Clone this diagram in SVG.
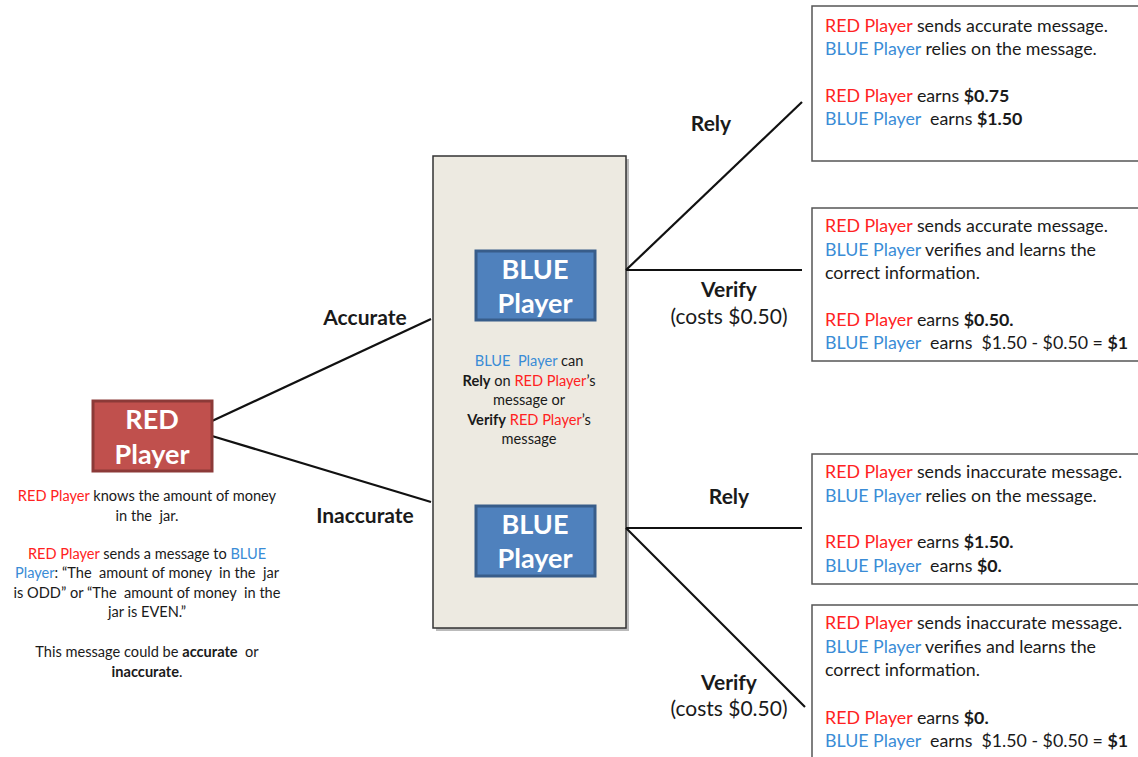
<svg xmlns="http://www.w3.org/2000/svg" width="1138" height="757" viewBox="0 0 1138 757" xml:space="preserve">
<style>
text{font-family:Lato,"Liberation Sans",sans-serif;fill:#1a1a1a;white-space:pre}
.r{fill:#FF2222}
.b{fill:#3A8CD6}
.bd{font-weight:bold}
.lbl{font-size:21px;font-weight:bold;text-anchor:middle}
.cost{font-size:21px;text-anchor:middle}
.box{fill:#fff;stroke:#555;stroke-width:1.5}
.ttl{font-size:27px;font-weight:bold;fill:#fff;text-anchor:middle}
.rt{font-size:17.8px}
.sm{font-size:14.6px;text-anchor:middle}
.ln{stroke:#111;stroke-width:2.2;fill:none}
</style>
<rect width="1138" height="757" fill="#fff"/>
<g id="container">
<rect x="436" y="159" width="193" height="472" fill="#bbb"/>
<rect x="433" y="156" width="193" height="472" fill="#EDEAE1" stroke="#333" stroke-width="1.5"/>
</g>
<g id="connectors">
<line class="ln" x1="212" y1="421" x2="431" y2="319"/>
<line class="ln" x1="212" y1="436" x2="431" y2="502"/>
<line class="ln" x1="626" y1="270" x2="802" y2="102"/>
<line class="ln" x1="626" y1="270" x2="802" y2="270"/>
<line class="ln" x1="626" y1="528" x2="802" y2="528"/>
<line class="ln" x1="626" y1="528" x2="805" y2="707"/>
<text class="lbl" x="365" y="325">Accurate</text>
<text class="lbl" x="365" y="523">Inaccurate</text>
<text class="lbl" x="711" y="131">Rely</text>
<text class="lbl" x="729" y="297">Verify</text>
<text class="cost" x="729" y="324">(costs $0.50)</text>
<text class="lbl" x="729" y="504">Rely</text>
<text class="lbl" x="729" y="690">Verify</text>
<text class="cost" x="729" y="716">(costs $0.50)</text>
</g>
<g id="red-player">
<rect x="93" y="401" width="119" height="70" fill="#C0504D" stroke="#8C3A38" stroke-width="3"/>
<text class="ttl" x="152" y="429">RED</text>
<text class="ttl" x="152" y="464">Player</text>
</g>
<g id="red-desc">
<text class="sm" x="147" y="501"><tspan class="r">RED Player</tspan> knows the amount of money</text>
<text class="sm" x="147" y="521">in the  jar.</text>
<text class="sm" x="147" y="559"><tspan class="r">RED Player</tspan> sends a message to <tspan class="b">BLUE</tspan></text>
<text class="sm" x="147" y="578"><tspan class="b">Player</tspan>: “The  amount of money  in the  jar</text>
<text class="sm" x="147" y="598">is ODD” or “The  amount of money  in the</text>
<text class="sm" x="147" y="617">jar is EVEN.”</text>
<text class="sm" x="147" y="657">This message could be <tspan class="bd">accurate</tspan>  or</text>
<text class="sm" x="147" y="677"><tspan class="bd">inaccurate</tspan>.</text>
</g>
<g id="blue-player-top">
<rect x="476" y="251" width="119" height="69" fill="#4F81BD" stroke="#385D8A" stroke-width="3"/>
<text class="ttl" x="535" y="279">BLUE</text>
<text class="ttl" x="535" y="313">Player</text>
</g>
<g id="blue-desc">
<text class="sm" x="529" y="366"><tspan class="b">BLUE  Player</tspan> can</text>
<text class="sm" x="529" y="386"><tspan class="bd">Rely</tspan> on <tspan class="r">RED Player</tspan>’s</text>
<text class="sm" x="529" y="405">message or</text>
<text class="sm" x="529" y="425"><tspan class="bd">Verify</tspan> <tspan class="r">RED Player</tspan>’s</text>
<text class="sm" x="529" y="444">message</text>
</g>
<g id="blue-player-bottom">
<rect x="476" y="506" width="119" height="70" fill="#4F81BD" stroke="#385D8A" stroke-width="3"/>
<text class="ttl" x="535" y="534">BLUE</text>
<text class="ttl" x="535" y="568">Player</text>
</g>
<g id="outcome-1">
<rect class="box" x="812" y="6" width="330" height="155"/>
<text class="rt" x="825" y="32"><tspan class="r">RED Player</tspan> sends accurate message.</text>
<text class="rt" x="825" y="55"><tspan class="b">BLUE Player</tspan> relies on the message.</text>
<text class="rt" x="825" y="102"><tspan class="r">RED Player</tspan> earns <tspan class="bd">$0.75</tspan></text>
<text class="rt" x="825" y="125"><tspan class="b">BLUE Player</tspan>  earns <tspan class="bd">$1.50</tspan></text>
</g>
<g id="outcome-2">
<rect class="box" x="812" y="208" width="330" height="153"/>
<text class="rt" x="825" y="232"><tspan class="r">RED Player</tspan> sends accurate message.</text>
<text class="rt" x="825" y="256"><tspan class="b">BLUE Player</tspan> verifies and learns the</text>
<text class="rt" x="825" y="279">correct information.</text>
<text class="rt" x="825" y="326"><tspan class="r">RED Player</tspan> earns <tspan class="bd">$0.50.</tspan></text>
<text class="rt" x="825" y="349"><tspan class="b">BLUE Player</tspan>  earns  $1.50 - $0.50 = <tspan class="bd">$1</tspan></text>
</g>
<g id="outcome-3">
<rect class="box" x="812" y="454" width="330" height="130"/>
<text class="rt" x="825" y="478"><tspan class="r">RED Player</tspan> sends inaccurate message.</text>
<text class="rt" x="825" y="502"><tspan class="b">BLUE Player</tspan> relies on the message.</text>
<text class="rt" x="825" y="548"><tspan class="r">RED Player</tspan> earns <tspan class="bd">$1.50.</tspan></text>
<text class="rt" x="825" y="572"><tspan class="b">BLUE Player</tspan>  earns <tspan class="bd">$0.</tspan></text>
</g>
<g id="outcome-4">
<rect class="box" x="812" y="605" width="330" height="160"/>
<text class="rt" x="825" y="629"><tspan class="r">RED Player</tspan> sends inaccurate message.</text>
<text class="rt" x="825" y="653"><tspan class="b">BLUE Player</tspan> verifies and learns the</text>
<text class="rt" x="825" y="676">correct information.</text>
<text class="rt" x="825" y="724"><tspan class="r">RED Player</tspan> earns <tspan class="bd">$0.</tspan></text>
<text class="rt" x="825" y="747"><tspan class="b">BLUE Player</tspan>  earns  $1.50 - $0.50 = <tspan class="bd">$1</tspan></text>
</g>
</svg>
